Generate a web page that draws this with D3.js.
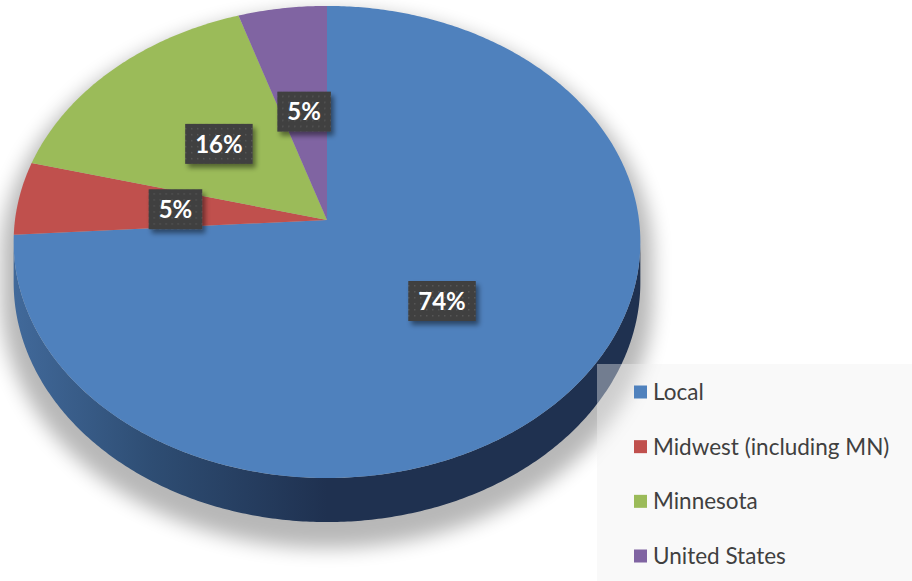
<!DOCTYPE html>
<html lang="en">
<head>
    <meta charset="UTF-8">
    <title>3D Pie</title>
    <script src="https://d3js.org/d3.v7.min.js"></script>
    <style>
        body { margin: 0; background: #fff; }
        svg { display: block; }
    </style>
</head>
<body>
    <div id="chart"></div>
    <script>
        // data
        const categories = ["Local", "Midwest (including MN)", "Minnesota", "United States"];
        const values = [74, 5, 16, 5];
        const colors = ["#4f81bd", "#c0504d", "#9bbb59", "#8064a2"];

        const W = 912, H = 581;
        const cx = 327, cy = 220;     // pie apex on screen
        const rx = 312, ry = 234;     // projected radii
        const persp = 0.093;          // perspective strength
        const depth = 40;             // thickness of the disc

        const svg = d3.select("#chart").append("svg")
            .attr("width", W).attr("height", H);
        const defs = svg.append("defs");

        // project an angle (0 = top, clockwise) on the disc
        function proj(a, level, r) {
            if (r === undefined) r = 1;
            const s = 1 / (1 + persp * r * Math.cos(a));
            return [cx + rx * r * Math.sin(a) * s,
                    cy - ry * r * Math.cos(a) * s + level * depth * s];
        }
        function arcPts(a0, a1, level) {
            const n = Math.max(2, Math.ceil(Math.abs(a1 - a0) / 0.01));
            return d3.range(n + 1).map(i => proj(a0 + (a1 - a0) * i / n, level));
        }
        const line = d3.line();

        const pie = d3.pie().sort(null).value(d => d)(values);

        // shadow
        defs.append("filter").attr("id", "blur")
            .attr("x", "-20%").attr("y", "-20%").attr("width", "140%").attr("height", "140%")
            .append("feGaussianBlur").attr("stdDeviation", 9);
        const visA = Math.acos(-persp), visB = 2 * Math.PI - visA;
        const outline = arcPts(0, visA, 0)
            .concat(arcPts(visA, visB, 1))
            .concat(arcPts(visB, 2 * Math.PI, 0));
        svg.append("path")
            .attr("d", line(outline) + "Z")
            .attr("transform", `translate(${cx},${cy + 14}) scale(1.04) translate(${-cx},${-cy})`)
            .attr("fill", "#000").attr("opacity", 0.28)
            .attr("filter", "url(#blur)");

        // side wall gradient
        const grad = defs.append("linearGradient").attr("id", "side")
            .attr("gradientUnits", "userSpaceOnUse")
            .attr("x1", cx - rx).attr("x2", cx + rx).attr("y1", 0).attr("y2", 0);
        grad.append("stop").attr("offset", "0%").attr("stop-color", "#41699a");
        grad.append("stop").attr("offset", "22%").attr("stop-color", "#2e4d73");
        grad.append("stop").attr("offset", "50%").attr("stop-color", "#1f3150");
        grad.append("stop").attr("offset", "100%").attr("stop-color", "#1f3150");

        // side walls (front half only)
        pie.forEach((d, i) => {
            const a0 = Math.max(d.startAngle, visA), a1 = Math.min(d.endAngle, visB);
            if (a1 <= a0) return;
            const pts = arcPts(a0, a1, 0).concat(arcPts(a1, a0, 1));
            svg.append("path").attr("d", line(pts) + "Z")
                .attr("fill", i === 0 ? "url(#side)" : d3.color(colors[i]).darker(1.2));
        });

        // top faces
        pie.forEach((d, i) => {
            const pts = [[cx, cy]].concat(arcPts(d.startAngle, d.endAngle, 0));
            svg.append("path").attr("d", line(pts) + "Z")
                .attr("fill", colors[i]);
        });

        // data labels
        const pat = defs.append("pattern").attr("id", "dots")
            .attr("width", 6).attr("height", 6).attr("patternUnits", "userSpaceOnUse");
        pat.append("rect").attr("width", 6).attr("height", 6).attr("fill", "#3f3f3f");
        pat.append("rect").attr("x", 2).attr("y", 2).attr("width", 1.5).attr("height", 1.5).attr("fill", "#575757");
        const lf = defs.append("filter").attr("id", "lshadow")
            .attr("x", "-30%").attr("y", "-30%").attr("width", "170%").attr("height", "180%");
        lf.append("feDropShadow").attr("dx", 3).attr("dy", 4).attr("stdDeviation", 2.5)
            .attr("flood-color", "#000").attr("flood-opacity", 0.45);

        pie.forEach((d, i) => {
            const mid = (d.startAngle + d.endAngle) / 2;
            const p = proj(mid, 0, 0.49);
            const g = svg.append("g").attr("transform", `translate(${p[0]},${p[1]})`);
            const box = g.append("rect").attr("fill", "url(#dots)").attr("filter", "url(#lshadow)");
            const t = g.append("text")
                .attr("text-anchor", "middle").attr("dy", "0.36em")
                .attr("font-family", "Lato, 'Open Sans', sans-serif")
                .attr("font-weight", "bold").attr("font-size", 24)
                .attr("fill", "#fff")
                .text(Math.round(values[i] / d3.sum(values) * 100) + "%");
            const bw = t.node().getBBox().width + 20;
            box.attr("x", -bw / 2).attr("y", -20).attr("width", bw).attr("height", 40);
        });

        // legend
        const lx = 597, ly = 364;
        svg.append("rect").attr("x", lx).attr("y", ly)
            .attr("width", W - lx).attr("height", H - ly)
            .attr("fill", "#efefef").attr("opacity", 0.4);
        const leg = svg.append("g");
        const legY = d3.scalePoint().domain(categories).range([392, 556]);
        categories.forEach((c, i) => {
            const y = legY(c);
            leg.append("rect").attr("x", 634).attr("y", y - 6.5)
                .attr("width", 13).attr("height", 13).attr("fill", colors[i]);
            leg.append("text").attr("x", 653).attr("y", y).attr("dy", "0.35em")
                .attr("font-family", "Lato, 'Open Sans', sans-serif")
                .attr("font-size", 22.5).attr("fill", "#404040")
                .text(c);
        });
    </script>
</body>
</html>
